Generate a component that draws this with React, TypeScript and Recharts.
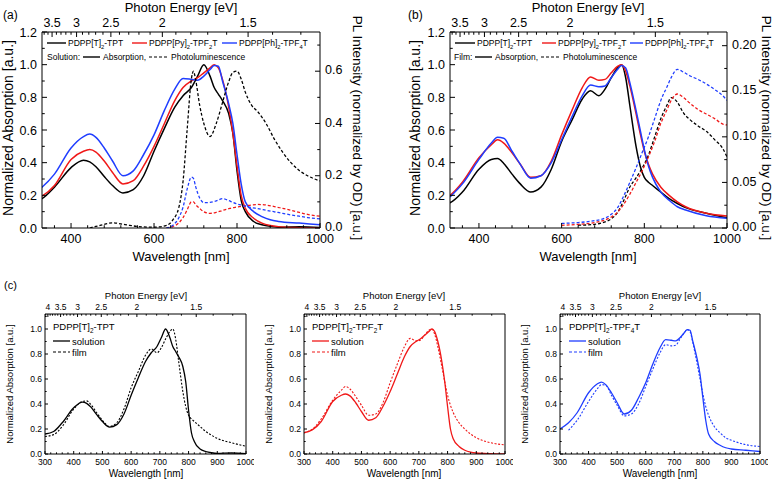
import React from "react";
import { LineChart, Line, XAxis, YAxis } from "recharts";

const FONT = "'Liberation Sans', Arial, sans-serif";
const RED = "#f01818";
const BLUE = "#1f3dff";

// absorption spectra, common wavelength grid [nm]
const absWl = [300, 330, 360, 400, 430, 445, 460, 480, 500, 525, 550, 575, 600, 625, 650, 670, 690, 705, 720, 735, 745, 755, 765, 780, 790, 800, 810, 820, 840, 860, 880, 900, 950, 1000];
const solT = [0.16, 0.18, 0.25, 0.37, 0.415, 0.405, 0.375, 0.315, 0.26, 0.215, 0.235, 0.32, 0.47, 0.61, 0.74, 0.81, 0.86, 0.93, 1.0, 0.93, 0.86, 0.82, 0.78, 0.7, 0.58, 0.35, 0.17, 0.1, 0.04, 0.02, 0.01, 0.005, 0.008, 0.003];
const solPy = [0.17, 0.195, 0.26, 0.42, 0.47, 0.48, 0.465, 0.41, 0.34, 0.27, 0.29, 0.38, 0.5, 0.64, 0.78, 0.86, 0.9, 0.92, 0.95, 0.98, 1.0, 0.98, 0.91, 0.74, 0.58, 0.38, 0.2, 0.12, 0.06, 0.03, 0.015, 0.008, 0.002, 0.0];
const solPh = [0.2, 0.25, 0.33, 0.49, 0.56, 0.575, 0.555, 0.49, 0.41, 0.32, 0.35, 0.45, 0.57, 0.72, 0.85, 0.915, 0.91, 0.905, 0.93, 0.97, 0.995, 0.99, 0.9, 0.76, 0.64, 0.45, 0.27, 0.16, 0.1, 0.07, 0.05, 0.04, 0.03, 0.02];
const filmT = [0.14, 0.155, 0.22, 0.36, 0.42, 0.425, 0.395, 0.33, 0.27, 0.22, 0.25, 0.36, 0.53, 0.66, 0.79, 0.84, 0.81, 0.85, 0.92, 0.98, 1.0, 0.92, 0.75, 0.5, 0.38, 0.31, 0.28, 0.26, 0.22, 0.18, 0.15, 0.125, 0.09, 0.062];
const filmPy = [0.17, 0.2, 0.28, 0.43, 0.51, 0.54, 0.52, 0.46, 0.39, 0.31, 0.32, 0.41, 0.57, 0.72, 0.86, 0.925, 0.905, 0.91, 0.95, 0.99, 1.0, 0.96, 0.87, 0.7, 0.58, 0.47, 0.39, 0.33, 0.25, 0.2, 0.16, 0.13, 0.09, 0.073];
const filmPh = [null, 0.19, 0.27, 0.42, 0.52, 0.555, 0.55, 0.47, 0.39, 0.305, 0.32, 0.4, 0.54, 0.68, 0.81, 0.875, 0.865, 0.87, 0.92, 0.97, 0.995, 0.98, 0.89, 0.72, 0.6, 0.48, 0.38, 0.31, 0.22, 0.17, 0.13, 0.11, 0.075, 0.06];

// photoluminescence in solution
const plSolWl = [445, 470, 500, 530, 560, 600, 630, 645, 660, 670, 680, 690, 695, 700, 710, 720, 735, 750, 765, 780, 790, 800, 810, 820, 835, 850, 870, 890, 910, 930, 950, 970, 1000];
const plSolT = [0, 0.01, 0.02, 0.013, 0.006, 0.003, 0.01, 0.03, 0.08, 0.18, 0.38, 0.57, 0.6, 0.57, 0.47, 0.4, 0.35, 0.4, 0.48, 0.56, 0.595, 0.6, 0.57, 0.52, 0.47, 0.445, 0.4, 0.34, 0.29, 0.25, 0.22, 0.2, 0.18];
const plSolPy = [null, null, null, null, null, null, 0.0, 0.005, 0.02, 0.04, 0.07, 0.1, 0.1, 0.09, 0.075, 0.062, 0.056, 0.06, 0.067, 0.074, 0.078, 0.08, 0.083, 0.085, 0.088, 0.09, 0.088, 0.082, 0.075, 0.068, 0.06, 0.052, 0.045];
const plSolPh = [null, null, null, null, null, null, 0.0, 0.01, 0.04, 0.08, 0.15, 0.195, 0.19, 0.16, 0.115, 0.097, 0.098, 0.104, 0.112, 0.105, 0.098, 0.092, 0.088, 0.083, 0.078, 0.074, 0.068, 0.062, 0.056, 0.05, 0.045, 0.04, 0.035];

// photoluminescence in film
const plFilmWl = [600, 640, 680, 700, 720, 735, 750, 765, 780, 795, 810, 825, 840, 855, 865, 880, 895, 910, 930, 950, 970, 990, 1000];
const plFilmT = [null, 0.003, 0.004, 0.006, 0.01, 0.017, 0.03, 0.045, 0.055, 0.066, 0.08, 0.1, 0.12, 0.135, 0.143, 0.138, 0.126, 0.119, 0.112, 0.106, 0.097, 0.087, 0.078];
const plFilmPy = [0.003, 0.004, 0.006, 0.008, 0.012, 0.017, 0.026, 0.037, 0.05, 0.063, 0.078, 0.095, 0.115, 0.13, 0.14, 0.147, 0.143, 0.137, 0.13, 0.125, 0.12, 0.114, 0.113];
const plFilmPh = [0.005, 0.006, 0.008, 0.01, 0.015, 0.022, 0.035, 0.05, 0.066, 0.083, 0.1, 0.12, 0.14, 0.155, 0.165, 0.174, 0.171, 0.167, 0.163, 0.158, 0.152, 0.145, 0.14];

// tick labels
const energyLabels = [4, 3.5, 3, 2.5, 2, 1.5];
const wlLabelsAB = [400, 600, 800, 1000];
const wlLabelsC = [300, 400, 500, 600, 700, 800, 900, 1000];
const absLabelsAB = [0, 0.2, 0.4, 0.6, 0.8, 1.0, 1.2];
const absLabelsC = [0, 0.2, 0.4, 0.6, 0.8, 1.0];
const plLabelsA = [0, 0.2, 0.4, 0.6];
const plLabelsB = [0, 0.05, 0.1, 0.15, 0.2];

const zip = (xs: number[], ys: (number | null)[]) => xs.map((wl, i) => ({ wl, v: ys[i] }));
const steps = (a: number, b: number, s: number) => {
  const out: number[] = [];
  for (let v = a; v <= b + 1e-9; v += s) out.push(Math.round(v * 1000) / 1000);
  return out;
};
const near = (list: number[], v: number) => list.some((m) => Math.abs(m - v) < 1e-6);

type Side = "bottom" | "top" | "left" | "right";

const tick = (side: Side, labels: number[], fmt: (v: number) => string, fs: number, len: number, gap: number, toVal?: (v: number) => number) =>
  (p: any) => {
    const { x, y, payload } = p;
    const v = toVal ? toVal(payload.value) : payload.value;
    const major = near(labels, v);
    const l = major ? len : len * 0.55;
    let x2 = x, y2 = y, tx = x, ty = y;
    let anchor: "middle" | "end" | "start" = "middle";
    if (side === "bottom") { y2 = y - l; ty = y + gap; }
    else if (side === "top") { y2 = y + l; ty = y - gap; }
    else if (side === "left") { x2 = x + l; tx = x - gap; ty = y + fs * 0.36; anchor = "end"; }
    else { x2 = x - l; tx = x + gap; ty = y + fs * 0.25; anchor = "start"; }
    return (
      <g>
        <line x1={x} y1={y} x2={x2} y2={y2} stroke="#000" strokeWidth={1} />
        {major && (
          <text x={tx} y={ty} textAnchor={anchor} fontSize={fs} fontFamily={FONT} fill="#000">
            {fmt(v)}
          </text>
        )}
      </g>
    );
  };

type Series = { data: { wl: number; v: number | null }[]; color: string; dashed?: boolean; right?: boolean };

type PanelProps = {
  x0: number; y0: number; w: number; h: number;
  wl: number; wr: number; ht: number; hb: number;
  xDom: [number, number]; xStep: number; xLabels: number[];
  yDom: [number, number]; yLabels: number[];
  rDom?: [number, number]; rStep?: number; rLabels?: number[]; rFmt?: (v: number) => string;
  fs: number; len: number; gapB: number; gapT: number; gapL: number; gapR: number;
  sw: number; dash: string;
  series: Series[];
};

const Panel = (p: PanelProps) => {
  const xTicks = steps(p.xLabels[0] - Math.floor((p.xLabels[0] - p.xDom[0]) / p.xStep) * p.xStep, p.xDom[1], p.xStep);
  const eTicks = steps(1.3, 4.1, 0.1).map((e) => 1240 / e).filter((w) => w >= p.xDom[0] && w <= p.xDom[1]);
  const yTicks = steps(0, p.yDom[1], 0.1);
  const rTicks = p.rDom ? steps(0, p.rDom[1], p.rStep || 0.1) : [];
  const axisLine = { stroke: "#000", strokeWidth: 1 };
  return (
    <div style={{ position: "absolute", left: p.x0, top: p.y0 }}>
      <LineChart width={p.w} height={p.h} margin={{ top: 0, right: 0, bottom: 0, left: 0 }}>
        <XAxis xAxisId="b" type="number" dataKey="wl" domain={p.xDom} allowDataOverflow ticks={xTicks} interval={0}
          height={p.hb} tickSize={0} tickMargin={0} tickLine={false} axisLine={axisLine}
          tick={tick("bottom", p.xLabels, (v) => String(v), p.fs, p.len, p.gapB)} />
        <XAxis xAxisId="t" orientation="top" type="number" dataKey="wl" domain={p.xDom} allowDataOverflow ticks={eTicks} interval={0}
          height={p.ht} tickSize={0} tickMargin={0} tickLine={false} axisLine={axisLine}
          tick={tick("top", energyLabels, (v) => String(v), p.fs, p.len, p.gapT, (w) => Math.round((1240 / w) * 10) / 10)} />
        <YAxis yAxisId="l" type="number" domain={p.yDom} allowDataOverflow ticks={yTicks} interval={0}
          width={p.wl} tickSize={0} tickMargin={0} tickLine={false} axisLine={axisLine}
          tick={tick("left", p.yLabels, (v) => v.toFixed(1), p.fs, p.len, p.gapL)} />
        <YAxis yAxisId="r" orientation="right" type="number" domain={p.rDom || p.yDom} allowDataOverflow
          ticks={p.rDom ? rTicks : []} interval={0} width={p.wr} tickSize={0} tickMargin={0} tickLine={false} axisLine={axisLine}
          tick={p.rDom ? tick("right", p.rLabels || [], p.rFmt || ((v) => v.toFixed(1)), p.fs, p.len, p.gapR) : false} />
        {p.series.map((s, i) => (
          <Line key={i} xAxisId="b" yAxisId={s.right ? "r" : "l"} data={s.data} dataKey="v" type="monotone"
            stroke={s.color} strokeWidth={s.dashed ? p.sw * 0.85 : p.sw} strokeDasharray={s.dashed ? p.dash : undefined}
            dot={false} activeDot={false} isAnimationActive={false} />
        ))}
      </LineChart>
    </div>
  );
};

const Chem = ({ s, fs }: { s: string; fs: number }) => {
  const parts = s.split(/_(\d)/);
  const out: React.ReactNode[] = [];
  let down = false;
  parts.forEach((t, i) => {
    if (i % 2 === 1) {
      out.push(<tspan key={i} dy={fs * 0.3} fontSize={fs * 0.68}>{t}</tspan>);
      down = true;
    } else if (t) {
      out.push(<tspan key={i} dy={down ? -fs * 0.3 : 0}>{t}</tspan>);
      down = false;
    }
  });
  return <>{out}</>;
};

const T = (props: any) => <text fontFamily={FONT} fill="#000" {...props} />;

const seg = (x1: number, x2: number, y: number, color: string, dashed = false, w = 1.4) => (
  <line x1={x1} x2={x2} y1={y} y2={y} stroke={color} strokeWidth={w} strokeDasharray={dashed ? "3 2" : undefined} />
);

const names = ["PDPP[T]_2-TPT", "PDPP[Py]_2-TPF_2T", "PDPP[Ph]_2-TPF_4T"];
const LF = 8.5;

const App = () => {
  const abS = (ys: (number | null)[], color: string): Series => ({ data: zip(absWl, ys), color });
  const common = { fs: 12.5, len: 5, gapB: 15, gapT: 5, gapL: 5, gapR: 5, sw: 1.5, dash: "3 2" };
  const cCommon = {
    y0: 281, h: 200, ht: 33, hb: 27, wr: 8,
    xDom: [300, 1000] as [number, number], xStep: 20, xLabels: wlLabelsC,
    yDom: [0, 1.12] as [number, number], yLabels: absLabelsC,
    fs: 8.5, len: 3, gapB: 11, gapT: 4.5, gapL: 3, gapR: 3, sw: 1.3, dash: "2 1.6",
  };
  return (
    <div style={{ position: "absolute", left: 0, top: 0, width: 782, height: 481, background: "#fff" }}>
      <Panel x0={0} y0={0} w={360} h={258} wl={42} wr={40} ht={32} hb={30}
        xDom={[330, 1000]} xStep={40} xLabels={wlLabelsAB}
        yDom={[0, 1.2]} yLabels={absLabelsAB}
        rDom={[0, 0.75]} rStep={0.1} rLabels={plLabelsA} rFmt={(v) => v.toFixed(1)}
        {...common}
        series={[
          abS(solT, "#000"), abS(solPy, RED), abS(solPh, BLUE),
          { data: zip(plSolWl, plSolT), color: "#000", dashed: true, right: true },
          { data: zip(plSolWl, plSolPy), color: RED, dashed: true, right: true },
          { data: zip(plSolWl, plSolPh), color: BLUE, dashed: true, right: true },
        ]} />
      <Panel x0={408} y0={0} w={374} h={258} wl={42} wr={55} ht={32} hb={30}
        xDom={[330, 1000]} xStep={40} xLabels={wlLabelsAB}
        yDom={[0, 1.2]} yLabels={absLabelsAB}
        rDom={[0, 0.215]} rStep={0.025} rLabels={plLabelsB} rFmt={(v) => v.toFixed(2)}
        {...common}
        series={[
          abS(filmT, "#000"), abS(filmPy, RED), abS(filmPh, BLUE),
          { data: zip(plFilmWl, plFilmT), color: "#000", dashed: true, right: true },
          { data: zip(plFilmWl, plFilmPy), color: RED, dashed: true, right: true },
          { data: zip(plFilmWl, plFilmPh), color: BLUE, dashed: true, right: true },
        ]} />
      <Panel x0={0} w={254} wl={45} {...cCommon}
        series={[abS(solT, "#000"), { ...abS(filmT, "#000"), dashed: true }]} />
      <Panel x0={262} w={251} wl={42} {...cCommon}
        series={[abS(solPy, RED), { ...abS(filmPy, RED), dashed: true }]} />
      <Panel x0={518} w={250} wl={42} {...cCommon}
        series={[abS(solPh, BLUE), { ...abS(filmPh, BLUE), dashed: true }]} />

      <svg width={782} height={481} style={{ position: "absolute", left: 0, top: 0, pointerEvents: "none" }}>
        {/* panel (a) */}
        <T x={3} y={19} fontSize={12}>(a)</T>
        <T x={181} y={12} fontSize={13} textAnchor="middle">Photon Energy [eV]</T>
        <T x={181} y={261} fontSize={13} textAnchor="middle">Wavelength [nm]</T>
        <T transform="translate(13,128) rotate(-90)" fontSize={14} textAnchor="middle">Normalized Absorption [a.u.]</T>
        <T transform="translate(353,128) rotate(90)" fontSize={13.5} textAnchor="middle">PL Intensity (normalized by OD) [a.u.]</T>
        {seg(47, 66, 43, "#000")}
        <T x={68} y={46} fontSize={LF}><Chem s={names[0]} fs={LF} /></T>
        {seg(132, 147, 43, RED)}
        <T x={149} y={46} fontSize={LF}><Chem s={names[1]} fs={LF} /></T>
        {seg(222, 237, 43, BLUE)}
        <T x={239} y={46} fontSize={LF}><Chem s={names[2]} fs={LF} /></T>
        <T x={47} y={60} fontSize={LF}>Solution:</T>
        {seg(83, 100, 57, "#000")}
        <T x={103} y={60} fontSize={LF}>Absorption,</T>
        {seg(149, 168, 57, "#000", true, 1.2)}
        <T x={171} y={60} fontSize={LF}>Photoluminescence</T>

        {/* panel (b) */}
        <T x={408} y={19} fontSize={12}>(b)</T>
        <T x={588} y={12} fontSize={13} textAnchor="middle">Photon Energy [eV]</T>
        <T x={588} y={261} fontSize={13} textAnchor="middle">Wavelength [nm]</T>
        <T transform="translate(420,128) rotate(-90)" fontSize={14} textAnchor="middle">Normalized Absorption [a.u.]</T>
        <T transform="translate(762,128) rotate(90)" fontSize={13.5} textAnchor="middle">PL Intensity (normalized by OD) [a.u.]</T>
        {seg(455, 475, 43, "#000")}
        <T x={477} y={46} fontSize={LF}><Chem s={names[0]} fs={LF} /></T>
        {seg(542, 556, 43, RED)}
        <T x={558} y={46} fontSize={LF}><Chem s={names[1]} fs={LF} /></T>
        {seg(630, 643, 43, BLUE)}
        <T x={645} y={46} fontSize={LF}><Chem s={names[2]} fs={LF} /></T>
        <T x={454} y={60} fontSize={LF}>Film:</T>
        {seg(475, 492, 57, "#000")}
        <T x={495} y={60} fontSize={LF}>Absorption,</T>
        {seg(541, 560, 57, "#000", true, 1.2)}
        <T x={563} y={60} fontSize={LF}>Photoluminescence</T>

        {/* panel (c) */}
        <T x={4} y={289} fontSize={11}>(c)</T>
        {[
          { cx: 146, lx: 13, left: 53, name: "PDPP[T]_2-TPT", color: "#000" },
          { cx: 404, lx: 272, left: 312, name: "PDPP[T]_2-TPF_2T", color: RED },
          { cx: 660, lx: 528, left: 569, name: "PDPP[T]_2-TPF_4T", color: BLUE },
        ].map((c, i) => (
          <g key={i}>
            <T x={c.cx} y={299} fontSize={9.5} textAnchor="middle">Photon Energy [eV]</T>
            <T x={c.cx} y={477} fontSize={10} textAnchor="middle">Wavelength [nm]</T>
            <T transform={`translate(${c.lx},384) rotate(-90)`} fontSize={9.5} textAnchor="middle">Normalized Absorption [a.u.]</T>
            <T x={c.left} y={330} fontSize={9.5}><Chem s={c.name} fs={9.5} /></T>
            {seg(c.left, c.left + 17, 341, c.color, false, 1.3)}
            <T x={c.left + 19} y={344.5} fontSize={9.5}>solution</T>
            {seg(c.left, c.left + 17, 352, c.color, true, 1.1)}
            <T x={c.left + 19} y={355.5} fontSize={9.5}>film</T>
          </g>
        ))}
      </svg>
    </div>
  );
};

export default App;
